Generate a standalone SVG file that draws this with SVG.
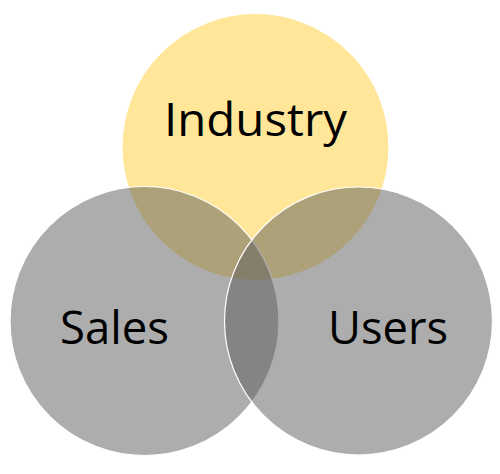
<svg xmlns="http://www.w3.org/2000/svg" width="500" height="474" viewBox="0 0 500 474">
<style>
.c{stroke:#ffffff;stroke-width:1.2}
.g{fill:#5b5b5b;fill-opacity:0.5}
.t{font-family:"Open Sans","Noto Sans","DejaVu Sans",sans-serif;font-size:46px;fill:#000000}
</style>
<rect width="500" height="474" fill="#ffffff"/>
<g id="industry">
<circle class="c" cx="255.5" cy="147" r="133.5" fill="#ffe699"/>
</g>
<g id="sales">
<circle class="c g" cx="144.5" cy="321" r="134.5"/>
</g>
<g id="users">
<circle class="c g" cx="358.5" cy="321" r="134"/>
</g>
<g id="labels">
<text class="t" x="164" y="136" textLength="183" lengthAdjust="spacingAndGlyphs">Industry</text>
<text class="t" x="60" y="344" textLength="109" lengthAdjust="spacingAndGlyphs">Sales</text>
<text class="t" x="328" y="344" textLength="120" lengthAdjust="spacingAndGlyphs">Users</text>
</g>
</svg>
